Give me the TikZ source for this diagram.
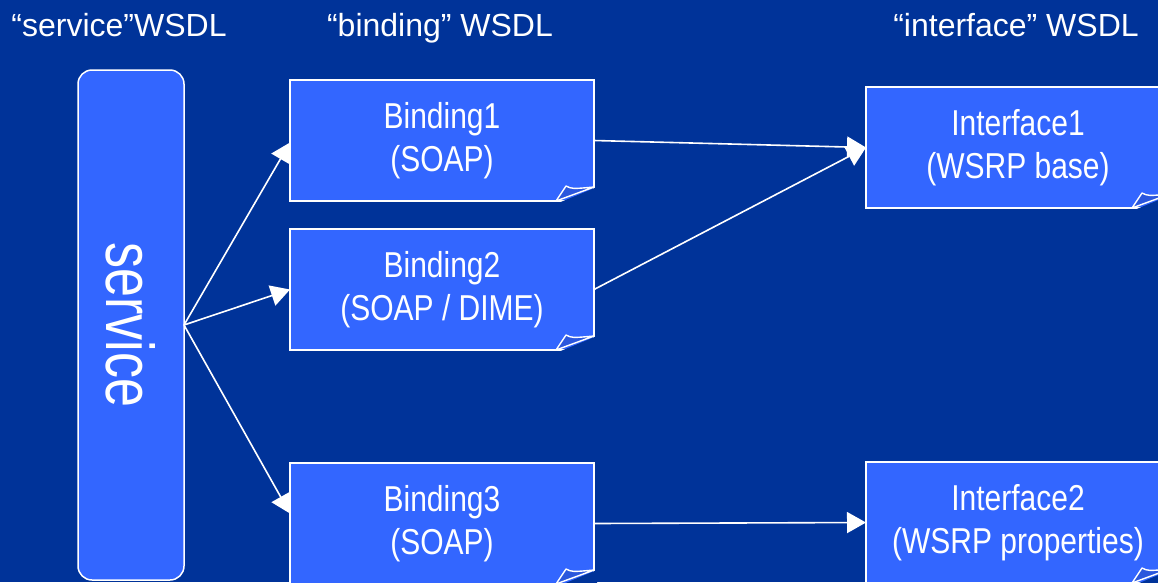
\documentclass[tikz,border=0pt]{standalone}
\usepackage{fontspec}
\setmainfont{Liberation Sans}
\usepackage{graphicx}
\usetikzlibrary{arrows.meta,positioning}

\definecolor{bgblue}{HTML}{003399}
\definecolor{boxblue}{HTML}{3366FF}
\definecolor{foldblue}{HTML}{2B57DD}

% taller letters, as in the slide
\newcommand{\tallline}[1]{\scalebox{1}[1.2]{#1}}
% dog-ear at the lower right corner of a document node
\newcommand{\dogear}[1]{%
  \fill[bgblue] ([xshift=-38pt,yshift=-3pt]#1.south east) -- ([xshift=3pt,yshift=-3pt]#1.south east)
    -- ([xshift=3pt,yshift=14pt]#1.south east) -- cycle;
  \draw[white, line width=1.4pt, line join=round, fill=foldblue]
    ([xshift=-38pt]#1.south east) -- ([xshift=-28pt,yshift=15pt]#1.south east)
    .. controls ([xshift=-22pt,yshift=12pt]#1.south east) .. ([yshift=14pt]#1.south east) -- cycle;
}

\begin{document}
\begin{tikzpicture}[
  x=1pt, y=-1pt,
  font=\fontsize{30}{43}\selectfont,
  doc/.style={rectangle, fill=boxblue, draw=white, line width=2pt, outer sep=0pt,
    minimum width=304pt, minimum height=121pt, align=center, text=white, inner sep=0pt},
  svc/.style={rectangle, rounded corners=14pt, fill=boxblue, draw=white, line width=1.5pt,
    outer sep=0pt, minimum width=106pt, minimum height=510pt, text=white, inner sep=0pt,
    font=\fontsize{52}{60}\selectfont},
  title/.style={anchor=base, text=white, font=\fontsize{32}{38}\selectfont},
  arr/.style={-{Triangle[length=19pt,width=21pt]}, white, line width=1.6pt}
]
  \useasboundingbox (0,0) rectangle (1158,582);
  \clip (0,0) rectangle (1158,582);
  \fill[bgblue] (0,0) rectangle (1158,582);

  % column titles
  \node[title] (titleS) at (119,36) {“service”WSDL};
  \node[title] (titleB) at (440,36) {“binding” WSDL};
  \node[title] (titleI) at (1016,36) {“interface” WSDL};

  % service
  \node[svc] (service) at (131,325) {\rotatebox{-90}{\scalebox{1}[1.3]{service}}};

  % bindings
  \node[doc] (bindA) at (442,140.5) {\tallline{Binding1}\\\tallline{(SOAP)}};
  \node[doc, below=28pt of bindA] (bindB) {\tallline{Binding2}\\\tallline{(SOAP / DIME)}};
  \node[doc, below=113pt of bindB] (bindC) {\tallline{Binding3}\\\tallline{(SOAP)}};

  % interfaces
  \node[doc] (intA) at (1018,147.5) {\tallline{Interface1}\\\tallline{(WSRP base)}};
  \node[doc, below=254pt of intA] (intB) {\tallline{Interface2}\\\tallline{(WSRP properties)}};

  \foreach \n in {bindA,bindB,bindC,intA,intB} {\dogear{\n}}

  \draw[arr] (service.east) -- ([yshift=-2pt]bindA.west);
  \draw[arr] (service.east) -- (bindB.west);
  \draw[arr] (service.east) -- ([yshift=10pt]bindC.west);
  \draw[arr] (bindA.east) -- (intA.west);
  \draw[arr] (bindB.east) -- (intA.west);
  \draw[arr] (bindC.east) -- (intB.west);
\end{tikzpicture}
\end{document}
